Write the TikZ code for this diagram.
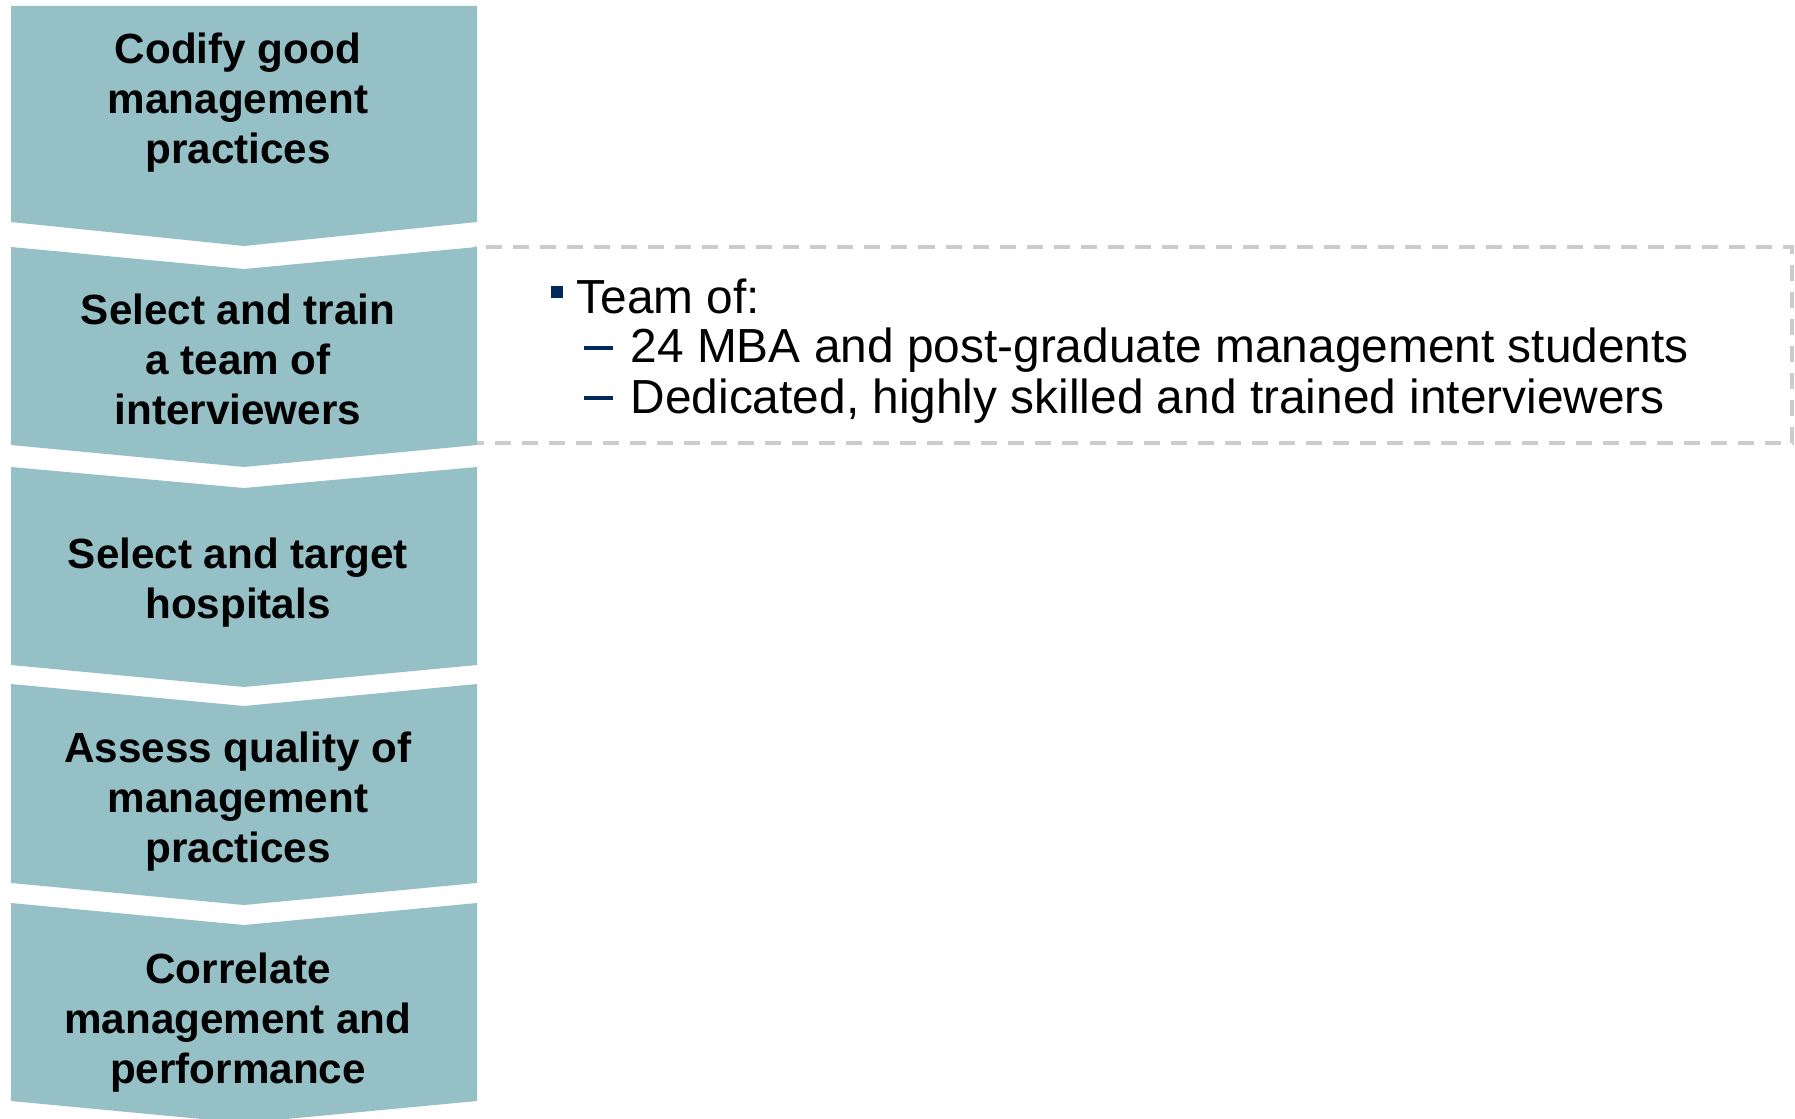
\documentclass[tikz,border=0pt]{standalone}
\usepackage{fontspec}
\setmainfont{Liberation Sans}
\definecolor{chevfill}{RGB}{149,192,198}
\definecolor{bulletblue}{RGB}{0,41,92}
\definecolor{boxgray}{RGB}{204,204,204}
\tikzset{
  steptext/.style={anchor=north,align=center,inner sep=0pt,
    font=\fontsize{12}{14.23}\selectfont\bfseries},
  itemtext/.style={anchor=base west,inner sep=0pt,
    font=\fontsize{13.6}{14.23}\selectfont}
}

\begin{document}
\begin{tikzpicture}[x=0.01cm,y=-0.01cm]
         \useasboundingbox (0,0) rectangle (1795,1119) ;
         % dashed box behind the second step
         \draw[boxgray,line width=0.04cm,dash pattern=on 0.16cm off 0.11cm] (475,247) rectangle (1792,443) ;
         % the five chevrons : top / notch / bottom / tip
         \foreach \t/\n/\b/\p in {6/6/222/246,247/269/445/467,467/488/665/687,684/706/883/905,903/925/1101/1123}
            \fill[chevfill] (11,\t) -- (244,\n) -- (477,\t) -- (477,\b) -- (244,\p) -- (11,\b) -- cycle ;
         \node[steptext] (codify) at (238,32) {Codify good\\management\\practices} ;
         \node[steptext] (train) at (238,293) {Select and train\\a team of\\interviewers} ;
         \node[steptext] (target) at (238,537) {Select and target\\hospitals} ;
         \node[steptext] (assess) at (238,731) {Assess quality of\\management\\practices} ;
         \node[steptext] (correlate) at (238,952) {Correlate\\management and\\performance} ;
         % bullet list
         \fill[bulletblue] (551,286) rectangle (563,298) ;
         \node[itemtext] (team) at (576,314) {Team of:} ;
         \fill[bulletblue] (584,346) rectangle (613,350) ;
         \node[itemtext] (mba) at (630,363) {24 MBA and post-graduate management students} ;
         \fill[bulletblue] (584,396) rectangle (613,400) ;
         \node[itemtext] (dedicated) at (630,414) {Dedicated, highly skilled and trained interviewers} ;
       \end{tikzpicture}
\end{document}
